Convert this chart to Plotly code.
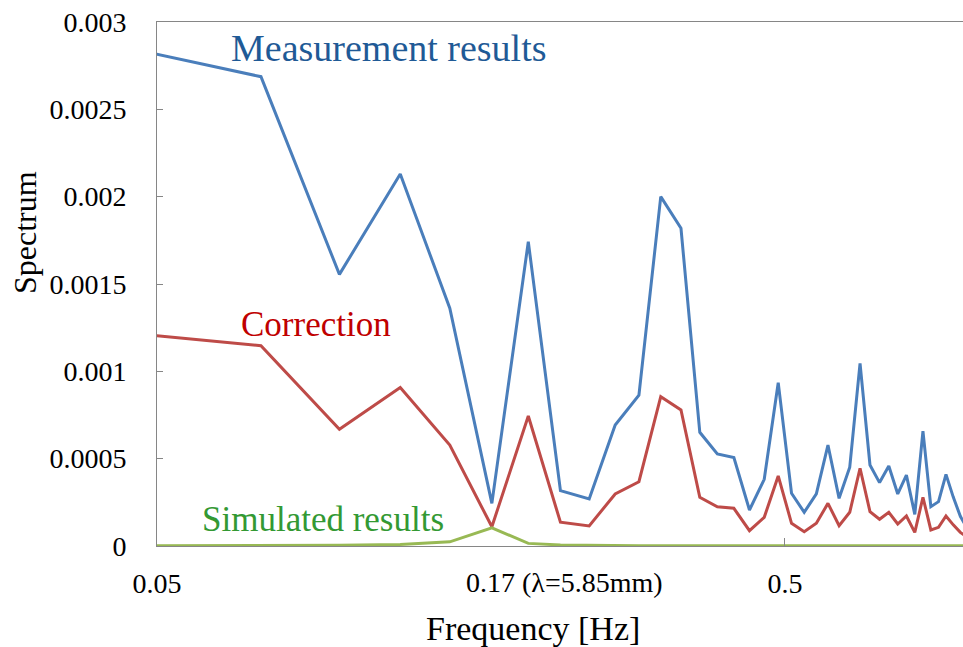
import math
import plotly.graph_objects as go

# Frequencies [Hz] (harmonic index n = 2 ... 40 of a 1/41 Hz spacing)
freq = [0.0488, 0.0732, 0.0976, 0.1220, 0.1463, 0.1707, 0.1951, 0.2195, 0.2439, 0.2683,
        0.2927, 0.3171, 0.3415, 0.3659, 0.3902, 0.4146, 0.4390, 0.4634, 0.4878, 0.5122,
        0.5366, 0.5610, 0.5854, 0.6098, 0.6341, 0.6585, 0.6829, 0.7073, 0.7317, 0.7561,
        0.7805, 0.8049, 0.8293, 0.8537, 0.8780, 0.9024, 0.9268, 0.9512, 0.9756]

measurement = [0.002824, 0.002687, 0.001555, 0.002130, 0.001361, 0.000244, 0.001742, 0.000317,
               0.000269, 0.000693, 0.000864, 0.002000, 0.001819, 0.000651, 0.000527, 0.000506,
               0.000206, 0.000382, 0.000935, 0.000302, 0.000193, 0.000298, 0.000578, 0.000273,
               0.000451, 0.001046, 0.000464, 0.000363, 0.000458, 0.000298, 0.000406, 0.000181,
               0.000658, 0.000225, 0.000254, 0.000410, 0.000280, 0.000170, 0.000100]

correction = [0.001208, 0.001147, 0.000668, 0.000908, 0.000578, 0.000110, 0.000744, 0.000136,
              0.000115, 0.000298, 0.000368, 0.000855, 0.000779, 0.000279, 0.000225, 0.000216,
              0.000088, 0.000164, 0.000401, 0.000130, 0.000082, 0.000130, 0.000244, 0.000116,
              0.000193, 0.000445, 0.000197, 0.000153, 0.000193, 0.000126, 0.000172, 0.000078,
              0.000279, 0.000092, 0.000107, 0.000172, 0.000121, 0.000078, 0.000050]

simulated = [0.000001, 0.000002, 0.000004, 0.000009, 0.000024, 0.000104, 0.000015, 0.000006,
             0.000003, 0.000002, 0.000001, 0.000001, 0.000001, 0.000001, 0.000001, 0.000001,
             0.000001, 0.000001, 0.000001, 0.000001, 0.000001, 0.000001, 0.000001, 0.000001,
             0.000001, 0.000001, 0.000001, 0.000001, 0.000001, 0.000001, 0.000001, 0.000001,
             0.000001, 0.000001, 0.000001, 0.000001, 0.000001, 0.000001, 0.000001]

y_ticks = [0, 0.0005, 0.001, 0.0015, 0.002, 0.0025, 0.003]
y_tick_text = ["0", "0.0005", "0.001", "0.0015", "0.002", "0.0025", "0.003"]
x_ticks = [0.05, 0.5]
x_tick_text = ["0.05", "0.5"]

FONT = "Liberation Serif"
W, H = 963, 647
L, R, T, B = 157, 0, 22, 101
PW, PH = W - L - R, H - T - B


def px(x):
    return (x - L) / PW


def py(y):
    return (H - B - y) / PH


fig = go.Figure()
fig.add_trace(go.Scatter(x=freq, y=measurement, mode="lines",
                         line=dict(color="#4A7EBB", width=3), name="Measurement results"))
fig.add_trace(go.Scatter(x=freq, y=correction, mode="lines",
                         line=dict(color="#BE4B48", width=3), name="Correction"))
fig.add_trace(go.Scatter(x=freq, y=simulated, mode="lines",
                         line=dict(color="#98B954", width=3), name="Simulated results"))

fig.update_layout(
    width=W, height=H,
    margin=dict(l=L, r=R, t=T, b=B),
    paper_bgcolor="white", plot_bgcolor="white",
    showlegend=False,
    font=dict(family=FONT, size=28, color="black"),
    xaxis=dict(type="log", range=[math.log10(0.05), math.log10(0.9605)],
               tickvals=x_ticks, ticktext=x_tick_text,
               ticks="inside", ticklen=8, tickcolor="#868686",
               showline=True, linecolor="#868686", linewidth=1, mirror=True,
               showgrid=False, zeroline=False, ticklabelstandoff=12,
               tickfont=dict(family=FONT, size=28)),
    yaxis=dict(range=[0, 0.003], tickvals=y_ticks, ticktext=y_tick_text,
               ticks="inside", ticklen=6, tickcolor="#868686",
               showline=True, linecolor="#868686", linewidth=1,
               showgrid=False, zeroline=False, ticklabelstandoff=24,
               tickfont=dict(family=FONT, size=28)),
)

annots = [
    dict(text="Measurement results", x=px(389), y=py(48), color="#1F5A96", size=38),
    dict(text="Correction", x=px(316), y=py(324), color="#C00000", size=35),
    dict(text="Simulated results", x=px(323), y=py(519), color="#339933", size=35),
]
for a in annots:
    fig.add_annotation(text=a["text"], xref="paper", yref="paper", x=a["x"], y=a["y"],
                       xanchor="center", yanchor="middle", showarrow=False,
                       font=dict(family=FONT, size=a["size"], color=a["color"]))

fig.add_annotation(text="0.17 (λ=5.85mm)", xref="paper", yref="paper",
                   x=px(464), y=py(582), xanchor="left", yanchor="middle",
                   showarrow=False, font=dict(family=FONT, size=28, color="black"))
fig.add_annotation(text="Frequency [Hz]", xref="paper", yref="paper",
                   x=px(533), y=py(628), xanchor="center", yanchor="middle",
                   showarrow=False, font=dict(family=FONT, size=34, color="black"))
fig.add_annotation(text="Spectrum", xref="paper", yref="paper",
                   x=px(25), y=py(233), xanchor="center", yanchor="middle", textangle=-90,
                   showarrow=False, font=dict(family=FONT, size=32, color="black"))

fig.write_html("out.html")
